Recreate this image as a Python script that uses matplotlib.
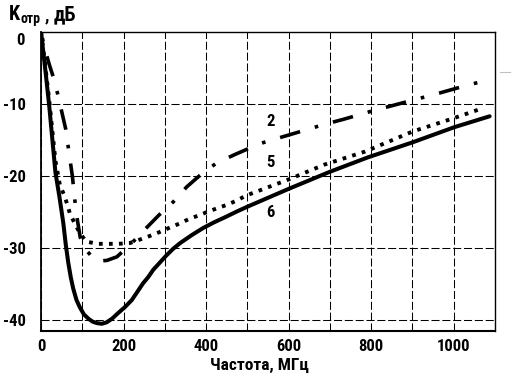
import numpy as np
import matplotlib
matplotlib.use("Agg")
import matplotlib.pyplot as plt
from matplotlib import font_manager as fm
from matplotlib.lines import Line2D

# ---------------- data ----------------
freq6 = [0, 10, 20, 35, 45, 54, 60, 66, 72, 78, 86, 94, 104, 115, 125, 135,
         147, 159, 172, 187, 203, 220, 233, 247, 260, 272, 288, 304, 320, 337,
         365, 393, 420, 450, 475, 502, 603, 700, 792, 901, 1002, 1087]
db6 = [0, -5, -10.3, -19.5, -23, -26.5, -29.5, -32, -34, -35.6, -37.2, -38.2,
       -39.2, -39.8, -40.2, -40.4, -40.5, -40.3, -39.8, -39, -38.2, -37.2,
       -36.1, -34.9, -34.0, -33, -32.0, -31, -30.1, -29.3, -28.2, -27.2, -26.4,
       -25.6, -24.9, -24.2, -21.7, -19.4, -17.4, -15.3, -13.2, -11.7]

freq5 = [0, 10, 20, 35, 46, 56, 64, 70, 82, 95, 110, 138, 162, 186, 215, 240,
         264, 286, 310, 335, 357, 380, 402, 425, 450, 474, 497, 603, 687, 785,
         901, 998, 1069]
db5 = [0, -4.5, -9.5, -17.9, -21.3, -22.6, -24, -25.2, -26.6, -28, -29.1, -29.4,
       -29.4, -29.4, -29.3, -28.8, -28.3, -27.8, -27.2, -26.6, -26, -25.5, -25,
       -24.5, -24, -23.4, -22.7, -20.4, -18.4, -16.6, -13.8, -12, -10.6]

freq2 = [0, 10, 20, 30, 40, 50, 60, 68, 76, 85, 95, 110, 125, 140, 160, 184,
         220, 250, 286, 320, 353, 385, 425, 470, 530, 600, 688, 734, 800, 872,
         964, 1007, 1092]
db2 = [0, -2.5, -4.5, -6.3, -8.5, -11, -13.5, -16.8, -20, -25, -28.5, -30.3,
       -31.3, -31.8, -31.7, -31.2, -29.3, -27.5, -25.4, -23.6, -21.5, -19.9,
       -18.2, -17, -15.5, -14.3, -12.8, -12.1, -11, -9.9, -8.5, -7.8, -6.5]

x_ticks = [0, 200, 400, 600, 800, 1000]
x_minor = [100, 300, 500, 700, 900]
y_ticks = [-40, -30, -20, -10]
y_tick_labels = ["-40", "-30", "-20", "-10"]
curve_labels = ["2", "5", "6"]
curve_label_pos = [(556, -12.4), (556, -18.1), (556, -25.1)]

# ---------------- font choice: a condensed bold sans if available ----------
def pick_font():
    ents = fm.fontManager.ttflist
    names = {f.name for f in ents}
    for n in ["Liberation Sans Narrow", "Roboto Condensed", "Open Sans Condensed",
              "Noto Sans Condensed", "DejaVu Sans Condensed", "Arial Narrow"]:
        if n in names:
            return n, "normal"
    for fam in ["DejaVu Sans", "Noto Sans", "Roboto", "Open Sans", "Liberation Sans", "Inter", "Lato"]:
        for f in ents:
            if f.name == fam and str(f.stretch) in ("condensed", "semi-condensed",
                                                     "extra-condensed"):
                return fam, f.stretch
    return "Liberation Sans", "normal"

FAM, STRETCH = pick_font()
plt.rcParams["font.family"] = [FAM, "DejaVu Sans"]
plt.rcParams["font.weight"] = "bold"
plt.rcParams["font.stretch"] = STRETCH
plt.rcParams["lines.scale_dashes"] = False

W, H = 517, 379
fig = plt.figure(figsize=(W / 100, H / 100), dpi=100)
fig.patch.set_facecolor("white")
ax = fig.add_axes([41 / W, 1 - 331 / H, (495 - 41) / W, (331 - 32) / H])
ax.set_xlim(0, 1100)
ax.set_ylim(-41.5, 0)

ax.set_xticks(x_ticks)
ax.set_xticklabels([str(v) for v in x_ticks])
ax.set_xticks(x_minor, minor=True)
ax.set_yticks(y_ticks)
ax.set_yticklabels(y_tick_labels)
ax.tick_params(which="both", length=0)
ax.tick_params(axis="x", pad=6.0, labelsize=12)
ax.tick_params(axis="y", pad=11.0, labelsize=12)
ax.grid(True, which="both", color="black", lw=0.75, linestyle=(0, (5.8, 2.0)))
ax.set_axisbelow(True)
for s in ax.spines.values():
    s.set_linewidth(1.0)
    s.set_color("black")
ax.spines["left"].set_linewidth(1.3)
ax.spines["bottom"].set_linewidth(1.5)

ax.text(-0.035, -1.2, "0", transform=ax.get_yaxis_transform(), ha="right",
        va="center", fontsize=12, fontweight="bold")

ax.plot(freq6, db6, color="black", lw=2.9, solid_joinstyle="round",
        solid_capstyle="round", zorder=3)
ax.plot(freq5, db5, color="black", lw=2.8, linestyle=(0, (2.7, 4.5)),
        dash_capstyle="butt", zorder=3)
ax.plot(freq2, db2, color="black", lw=2.6, linestyle=(21.6, (15, 11, 2.6, 11)),
        dash_capstyle="butt", zorder=3)

for lab, (fx, fy) in zip(curve_labels, curve_label_pos):
    ax.text(fx, fy, lab, ha="center", va="center", fontsize=12,
            fontweight="bold")

# title  K_отр , дБ  (pieces laid out one after another)
renderer = fig.canvas.get_renderer()
xpos = 9.0
base = 1 - 20 / H
for txt, size, dy, gap in [("K", 14.5, 0, 0.5), ("отр", 10, -2.5, 4), (",", 13, 0, 5),
                           ("дБ", 14.5, 0, 0)]:
    t = fig.text(xpos / W, base + dy / H, txt, fontsize=size, fontweight="bold",
                 ha="left", va="baseline")
    bb = t.get_window_extent(renderer)
    xpos += bb.width + gap

fig.text(259 / W, 1 - 365 / H, "Частота, МГц", fontsize=12.5,
         fontweight="bold", ha="center", va="center")

fig.add_artist(Line2D([500 / W, 510 / W], [1 - 72 / H, 1 - 72 / H],
                      color="#c0c0c0", lw=0.8))

fig.savefig("out.png", dpi=100)
